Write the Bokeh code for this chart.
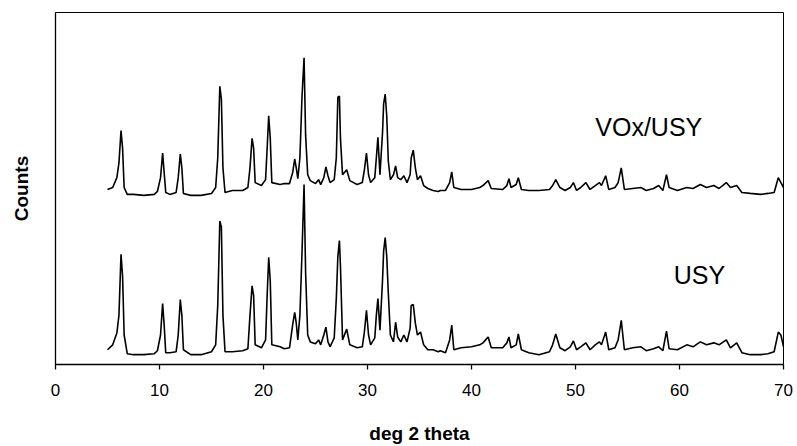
from bokeh.plotting import figure
from bokeh.models import Range1d, FixedTicker, Label
from bokeh.embed import file_html
from bokeh.resources import INLINE

# ---- data (2-theta in degrees, counts in arbitrary units) ----
vox_theta = [5.0, 5.5, 5.9, 6.1, 6.3, 6.45, 6.6, 6.9, 7.5, 8.5, 9.5, 9.8, 10.1, 10.3, 10.45, 10.6,
             11.0, 11.6, 11.8, 12.0, 12.15, 12.3, 13.0, 14.0, 15.0, 15.4, 15.6, 15.8, 15.95, 16.1,
             16.3, 17.0, 18.0, 18.5, 18.7, 18.9, 19.05, 19.2, 19.8, 20.2, 20.35, 20.5, 20.65, 20.8,
             21.6, 22.0, 22.5, 22.8, 23.0, 23.15, 23.3, 23.5, 23.7, 23.9, 24.05, 24.25, 24.5, 25.0,
             25.3, 25.5, 25.8, 26.0, 26.2, 26.4, 26.8, 27.0, 27.15, 27.3, 27.4, 27.6, 28.0, 28.3,
             29.0, 29.5, 29.7, 29.9, 30.1, 30.3, 30.7, 30.85, 31.0, 31.2, 31.45, 31.55, 31.7, 31.85,
             32.0, 32.2, 32.5, 32.7, 32.9, 33.2, 33.5, 33.8, 34.1, 34.2, 34.4, 34.6, 34.8, 35.1,
             35.4, 35.8, 36.3, 36.8, 37.0, 37.5, 37.9, 38.1, 38.3, 39.0, 40.0, 40.8, 41.1, 41.6,
             41.9, 43.0, 43.4, 43.6, 43.8, 44.3, 44.5, 44.8, 45.5, 46.5, 47.5, 47.8, 48.1, 48.5,
             49.0, 49.5, 49.8, 50.1, 50.5, 51.0, 51.4, 51.9, 52.3, 52.5, 52.9, 53.2, 53.8, 54.1,
             54.4, 54.7, 55.5, 56.3, 56.8, 57.5, 58.0, 58.4, 58.75, 59.0, 59.8, 60.7, 61.3, 62.0,
             62.6, 63.3, 63.8, 64.5, 64.9, 65.5, 66.0, 66.8, 67.8, 68.5, 69.1, 69.5, 69.75, 70.0]
vox_counts = [178, 180, 190, 205, 238, 220, 180, 173, 173, 172, 173, 176, 190, 215, 195, 175,
              173, 175, 190, 214, 200, 174, 172, 172, 174, 180, 210, 283, 270, 200,
              175, 177, 177, 180, 200, 230, 220, 185, 182, 188, 220, 253, 230, 185,
              183, 184, 184, 195, 209, 200, 189, 210, 272, 312, 233, 193, 187, 184,
              188, 183, 190, 201, 192, 185, 188, 210, 272, 273, 230, 193, 198, 187,
              183, 185, 198, 215, 193, 185, 190, 210, 231, 193, 237, 265, 275, 253,
              207, 188, 193, 202, 190, 188, 192, 185, 193, 210, 218, 200, 188, 192,
              182, 179, 177, 176, 177, 177, 185, 196, 180, 178, 178, 180, 182, 187,
              179, 178, 182, 189, 180, 183, 190, 178, 177, 177, 178, 182, 188, 180,
              177, 180, 185, 177, 180, 185, 178, 182, 185, 182, 192, 178, 180, 185,
              200, 178, 179, 180, 177, 179, 182, 177, 193, 180, 177, 180, 179, 183,
              180, 182, 179, 185, 180, 182, 175, 174, 173, 174, 175, 190, 185, 180]

usy_theta = vox_theta
usy_counts = [15, 20, 32, 50, 112, 90, 30, 11, 10, 10, 11, 14, 30, 62, 40, 12,
              12, 13, 30, 66, 50, 15, 10, 10, 13, 20, 60, 146, 140, 50,
              13, 13, 14, 16, 50, 80, 70, 20, 17, 25, 70, 109, 85, 20,
              18, 16, 17, 40, 53, 42, 25, 50, 113, 183, 93, 30, 23, 21,
              25, 20, 30, 38, 23, 18, 27, 67, 110, 126, 100, 25, 36, 20,
              17, 18, 33, 55, 30, 20, 27, 50, 67, 35, 87, 115, 129, 110,
              73, 30, 23, 43, 28, 23, 30, 23, 37, 60, 61, 42, 30, 33,
              20, 15, 15, 13, 14, 12, 25, 40, 15, 17, 18, 20, 22, 28,
              17, 17, 22, 28, 17, 20, 31, 15, 12, 10, 13, 20, 31, 17,
              14, 18, 24, 15, 18, 22, 15, 20, 23, 20, 33, 15, 17, 25,
              45, 15, 17, 18, 14, 16, 18, 14, 34, 16, 15, 20, 18, 23,
              20, 22, 20, 25, 17, 22, 12, 10, 10, 11, 13, 33, 30, 18]

x_ticks = [0, 10, 20, 30, 40, 50, 60, 70]
series_labels = ["VOx/USY", "USY"]
label_pos = [(51.9, 227), (59.45, 77)]

p = figure(width=797, height=446, output_backend="svg", toolbar_location=None,
           x_range=Range1d(0, 70), y_range=Range1d(0, 358),
           min_border_left=55, min_border_right=14, min_border_top=12, min_border_bottom=76)
p.background_fill_color = "white"
p.border_fill_color = "white"
p.outline_line_color = "black"
p.outline_line_width = 1
p.xgrid.visible = False
p.ygrid.visible = False

p.line(vox_theta, vox_counts, line_color="black", line_width=1.6)
p.line(usy_theta, usy_counts, line_color="black", line_width=1.6)

for txt, (lx, ly) in zip(series_labels, label_pos):
    p.add_layout(Label(x=lx, y=ly, text=txt, text_font="Liberation Sans",
                       text_font_size="25px", text_color="black"))

xa = p.xaxis[0]
xa.ticker = FixedTicker(ticks=x_ticks)
xa.minor_tick_line_color = None
xa.major_tick_in = 0
xa.major_tick_out = 5
xa.axis_line_color = "black"
xa.axis_line_width = 1.3
xa.major_tick_line_color = "black"
xa.major_tick_line_width = 1.3
xa.major_label_text_font = "Liberation Sans"
xa.major_label_text_font_size = "17px"
xa.major_label_text_color = "black"
xa.major_label_standoff = 14
xa.axis_label = "deg 2 theta"
xa.axis_label_text_font = "Liberation Sans"
xa.axis_label_text_font_style = "bold"
xa.axis_label_text_font_size = "19px"
xa.axis_label_text_color = "black"
xa.axis_label_standoff = 24

ya = p.yaxis[0]
ya.ticker = FixedTicker(ticks=[])
ya.minor_tick_line_color = None
ya.major_tick_line_color = None
ya.major_label_text_font_size = "0px"
ya.axis_line_color = "black"
ya.axis_line_width = 1.3
ya.axis_label = "Counts"
ya.axis_label_text_font = "Liberation Sans"
ya.axis_label_text_font_style = "bold"
ya.axis_label_text_font_size = "19px"
ya.axis_label_text_color = "black"
ya.axis_label_standoff = 24

open("out.html", "w").write(file_html(p, INLINE))
